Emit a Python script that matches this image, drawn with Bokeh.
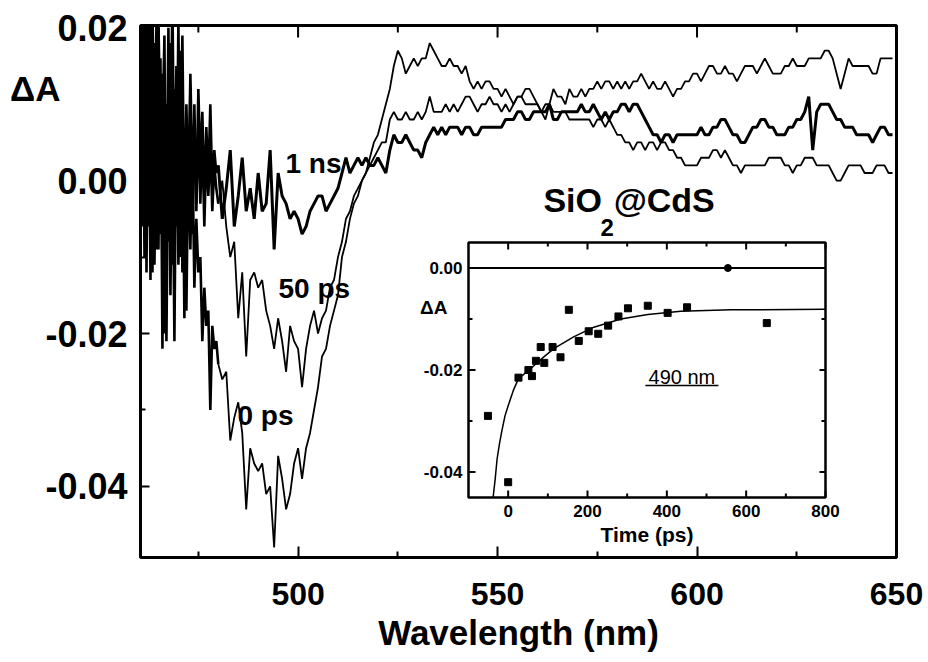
import numpy as np
from bokeh.plotting import figure
from bokeh.models import (Range1d, FixedTicker, NumeralTickFormatter, LinearAxis,
                          CustomJSTickFormatter)
from bokeh.core.properties import value
from bokeh.embed import file_html
from bokeh.resources import INLINE

FONT = "Liberation Sans"

# ---------------- main spectra ----------------
# wavelength sampling (nm): 0.5 nm in the noisy blue edge, 1 nm after
wl_fine = np.arange(460.5, 480.0, 0.5)      # 39 points
wl_coarse = np.arange(480.0, 650.0, 1.0)    # 170 points

dA_0ps_fine = [22, -6, 26, -12, 19, -13, 24, -2, 21, -9,
               16, -22, 13, -5, 20, -15, 9, -21, 11, -8,
               17, -12, 6, -17, 4, -9, 5, -14, -5, -12,
               -10, -21, -14, -19, -17, -30, -19, -22, -21]
dA_0ps_coarse = [-24, -26, -25, -34, -31, -29, -33, -43, -35, -37,   # 480
                 -38, -37, -41, -40, -48, -36, -39, -43, -41, -37,   # 490
                 -35, -39, -35, -33, -30, -27, -23, -22, -19, -17,   # 500
                 -15, -10, -8, -5, -3, -2, 0, 1, 3, 5,               # 510
                 6, 8, 10, 12, 15, 17, 16, 14, 15, 16,               # 520
                 15, 16, 16, 18, 17, 16, 15, 15, 16, 15,             # 530
                 15, 14, 15, 13, 12, 13, 12, 13, 13, 12,             # 540
                 12, 11, 12, 11, 10, 11, 11, 12, 12, 11,             # 550
                 10, 9, 8, 10, 12, 11, 11, 10, 12, 11,               # 560
                 11, 12, 11, 12, 12, 13, 12, 13, 13, 12,             # 570
                 13, 12, 13, 12, 13, 13, 14, 13, 12, 13,             # 580
                 12, 12, 13, 12, 11, 12, 12, 13, 13, 14,             # 590
                 14, 13, 14, 15, 15, 14, 14, 15, 14, 14,             # 600
                 13, 14, 15, 15, 15, 14, 15, 16, 15, 14,             # 610
                 14, 14, 15, 15, 16, 15, 15, 15, 16, 16,             # 620
                 16, 16, 17, 17, 16, 14, 12, 14, 16, 15,             # 630
                 15, 15, 15, 15, 14, 14, 16, 16, 16, 16]             # 640

dA_50ps_fine = [-5, 24, -10, 20, -6, 25, -12, 18, -9, 22,
                -4, 14, -20, 10, -8, 18, -11, 12, -6, 21,
                -10, 9, -18, 7, -5, 12, -7, 10, -4, 8,
                -3, 6, -6, 4, -2, 5, -4, 2, -1]
dA_50ps_coarse = [-3, 0, -6, -10, -8, -18, -12, -23, -13, -12,       # 480
                  -14, -13, -17, -19, -22, -18, -21, -25, -19, -21,  # 490
                  -22, -27, -22, -19, -17, -20, -18, -17, -14, -13,  # 500
                  -10, -8, -5, -4, -2, -1, 0, 1, 2, 3,               # 510
                  4, 5, 5, 8, 9, 8, 8, 9, 8, 8,                      # 520
                  9, 8, 9, 11, 9, 9, 9, 10, 9, 10,                   # 530
                  9, 10, 11, 11, 10, 9, 10, 10, 11, 10,              # 540
                  10, 9, 10, 9, 10, 11, 11, 10, 10, 10,              # 550
                  10, 9, 10, 10, 9, 9, 9, 9, 8, 8,                   # 560
                  8, 8, 8, 8, 7, 8, 8, 7, 8, 7,                      # 570
                  6, 6, 5, 5, 4, 5, 5, 4, 5, 5,                      # 580
                  4, 5, 5, 4, 4, 3, 3, 2, 2, 2,                      # 590
                  2, 3, 3, 3, 4, 4, 3, 4, 3, 2,                      # 600
                  2, 1, 2, 2, 2, 2, 2, 2, 3, 3,                      # 610
                  3, 3, 2, 2, 1, 2, 2, 3, 3, 3,                      # 620
                  2, 2, 2, 2, 1, 0, 0, 1, 2, 2,                      # 630
                  2, 2, 1, 1, 1, 2, 2, 2, 1, 1]                      # 640

dA_1ns_fine = [10, -3, 18, -8, 26, 2, 15, -11, 9, 23,
               -7, 6, 19, -21, 8, 2, 24, -4, 15, -11,
               4, 19, -6, 10, -2, 14, 1, 8, -3, 12,
               2, 9, -2, 7, 0, 10, -1, 4, 1]
dA_1ns_coarse = [2, -5, -1, 4, -6, -2, 3, -4, -1, -5,                # 480
                 1, -4, -3, 4, -9, 1, -2, -3, -5, -4,                # 490
                 -5, -7, -6, -4, -3, -2, -2, -4, -3, -2,             # 500
                 -1, 1, 3, 1, 2, 3, 2, 3, 2, 2,                      # 510
                 3, 2, 1, 4, 6, 5, 5, 6, 5, 4,                       # 520
                 4, 3, 5, 6, 7, 6, 7, 6, 7, 7,                       # 530
                 7, 6, 7, 7, 6, 6, 7, 7, 7, 7,                       # 540
                 7, 7, 8, 8, 8, 9, 9, 8, 8, 9,                       # 550
                 9, 9, 9, 10, 8, 8, 9, 9, 9, 9,                      # 560
                 9, 10, 9, 9, 10, 9, 8, 9, 8, 9,                     # 570
                 9, 10, 10, 9, 10, 10, 9, 8, 7, 6,                   # 580
                 6, 5, 6, 6, 5, 6, 6, 6, 6, 6,                       # 590
                 6, 7, 6, 6, 7, 7, 8, 8, 7, 6,                       # 600
                 6, 5, 5, 6, 7, 7, 8, 8, 7, 7,                       # 610
                 6, 6, 6, 7, 7, 8, 8, 9, 11, 4,                      # 620
                 9, 10, 10, 10, 9, 8, 8, 7, 7, 7,                    # 630
                 6, 6, 6, 6, 5, 6, 7, 7, 6, 6]                       # 640

x_ticks = [500, 550, 600, 650]
x_minor = [475, 525, 575, 625]
y_ticks = [-0.04, -0.02, 0.0, 0.02]
y_minor = [-0.03, -0.01, 0.01]

trace_label_text = ["1 ns", "50 ps", "0 ps"]
trace_label_x = [496.85, 495.1, 484.8]
trace_label_y = [0.00231, -0.01417, -0.03072]

# ---------------- inset: kinetics at 490 nm ----------------
kin_t = [-51, 0, 26, 51, 60, 70, 82, 91, 112, 132, 153, 178, 203, 227, 252,
         278, 302, 352, 402, 451, 652]
kin_dA = [-29.0, -42.0, -21.5, -20.0, -21.2, -18.2, -15.5, -18.6, -15.5, -17.5,
          -8.2, -14.3, -12.4, -12.9, -11.3, -9.5, -7.9, -7.4, -8.8, -7.7, -10.8]   # 1e-3
kin2_t = [554]
kin2_dA = [0.0]
fit_t = [-38, -33, -28, -22, -16, -8, 0, 13, 26, 40, 56, 81, 115, 165, 216,
         284, 352, 435, 562, 800]
fit_dA = [-45, -41.6, -37.5, -34.5, -32, -29, -27, -24, -21.7, -20.8, -19.8,
          -18, -15.8, -13.5, -11.6, -10, -9.1, -8.5, -8.2, -8.1]                    # 1e-3
inset_x_ticks = [0, 200, 400, 600, 800]
inset_x_tick_labels = ["0", "200", "400", "600", "800"]
inset_x_minor = [100, 300, 500, 700]
inset_y_ticks = [0.0, -0.02, -0.04]
inset_y_tick_labels = ["0.00", "-0.02", "-0.04"]
inset_y_minor = [-0.01, -0.03]

# ---------------- geometry ----------------
FIG_W, FIG_H = 928, 662
B_L, B_R, B_T, B_B = 140, 32, 25, 105
FRAME_W = FIG_W - B_L - B_R
FRAME_H = FIG_H - B_T - B_B
X_MIN, X_MAX = 460.5, 650.0
Y_MIN, Y_MAX = -0.0493, 0.0203
PPX = FRAME_W / (X_MAX - X_MIN)
PPY = FRAME_H / (Y_MAX - Y_MIN)

INS_L, INS_R, INS_T, INS_B = 328, 685, 217, 472   # inset box, frame pixels
T_MIN, T_MAX = -100.0, 800.0
A_MIN, A_MAX = -0.045, 0.005
SX = (T_MAX - T_MIN) / (INS_R - INS_L)
SY = (A_MAX - A_MIN) / (INS_B - INS_T)

wavelength = np.concatenate([wl_fine, wl_coarse])
dA_0ps = np.array(dA_0ps_fine + dA_0ps_coarse) * 1e-3
dA_50ps = np.array(dA_50ps_fine + dA_50ps_coarse) * 1e-3
dA_1ns = np.array(dA_1ns_fine + dA_1ns_coarse) * 1e-3
NF = len(wl_fine)

p = figure(width=FIG_W, height=FIG_H,
           x_range=Range1d(X_MIN, X_MAX), y_range=Range1d(Y_MIN, Y_MAX),
           output_backend="svg", toolbar_location=None,
           min_border_left=B_L, min_border_right=B_R,
           min_border_top=B_T, min_border_bottom=B_B,
           background_fill_color="white", border_fill_color="white")
p.extra_x_ranges = {"tx": Range1d(T_MIN - INS_L * SX, T_MAX + (FRAME_W - INS_R) * SX)}
p.extra_y_ranges = {"ty": Range1d(A_MIN - (FRAME_H - INS_B) * SY, A_MAX + INS_T * SY)}
p.xgrid.grid_line_color = None
p.ygrid.grid_line_color = None
p.outline_line_color = "black"
p.outline_line_width = 3

def style_axis(ax, major_in, minor_in):
    ax.axis_line_color = None
    ax.major_tick_in = major_in
    ax.major_tick_out = 0
    ax.minor_tick_in = minor_in
    ax.minor_tick_out = 0
    ax.major_tick_line_width = 2
    ax.minor_tick_line_width = 2
    ax.major_tick_line_color = "black"
    ax.minor_tick_line_color = "black"
    ax.major_label_text_font = FONT
    ax.major_label_text_font_style = "bold"
    ax.major_label_text_color = "black"

xa = p.xaxis[0]
xa.ticker = FixedTicker(ticks=x_ticks, minor_ticks=x_minor)
style_axis(xa, 11, 6)
xa.major_label_text_font_size = "32px"
xa.major_label_standoff = 25
xa.axis_label = "Wavelength (nm)"
xa.axis_label_text_font = FONT
xa.axis_label_text_font_size = "35px"
xa.axis_label_text_font_style = "bold"
xa.axis_label_text_color = "black"
xa.axis_label_standoff = 5

ya = p.yaxis[0]
ya.ticker = FixedTicker(ticks=y_ticks, minor_ticks=y_minor)
ya.formatter = NumeralTickFormatter(format="0.00")
style_axis(ya, 9, 5)
ya.major_label_text_font_size = "36px"
ya.major_label_standoff = 13

# "ΔA" title: a label-only outer left axis, one tick near the top of the frame
DA_TITLE_Y = Y_MAX - (87.5 - B_T) / PPY
title_ax = LinearAxis(ticker=FixedTicker(ticks=[DA_TITLE_Y], minor_ticks=[]),
                      formatter=CustomJSTickFormatter(code="return 'ΔA';"))
title_ax.axis_line_color = None
title_ax.major_tick_line_color = None
title_ax.minor_tick_line_color = None
title_ax.major_tick_in = 0
title_ax.major_tick_out = 0
title_ax.major_label_text_font = FONT
title_ax.major_label_text_font_size = "35px"
title_ax.major_label_text_font_style = "bold"
title_ax.major_label_text_color = "black"
title_ax.major_label_standoff = -18
p.add_layout(title_ax, "left")

# top-edge inward ticks of the main frame
p.ray(x_ticks, [Y_MAX] * len(x_ticks), length=12, angle=-np.pi / 2, length_units="screen",
      line_color="black", line_width=2)
p.ray(x_minor, [Y_MAX] * len(x_minor), length=7, angle=-np.pi / 2, length_units="screen",
      line_color="black", line_width=2)

# spectra (the very noisy blue edge drawn a little heavier, as in the scan)
for series, lw in ((dA_0ps, 1.8), (dA_50ps, 1.8), (dA_1ns, 3.0)):
    p.line(wavelength[:NF + 1], series[:NF + 1], line_color="black", line_width=2.6)
    p.line(wavelength[NF:], series[NF:], line_color="black", line_width=lw)

p.text(x=trace_label_x, y=trace_label_y, text=trace_label_text,
       text_font=value(FONT), text_font_size=value("28px"), text_font_style="bold",
       text_color="black", text_align="left", text_baseline="middle")

# sample name SiO2@CdS
p.text(x=[561.5, 579.1], y=[-0.00259, -0.00259], text=["SiO", "@CdS"],
       text_font=value(FONT), text_font_size=value("34px"), text_font_style="bold",
       text_color="black", text_align="left", text_baseline="middle")
p.text(x=[575.8], y=[-0.00619], text=["2"],
       text_font=value(FONT), text_font_size=value("24px"), text_font_style="bold",
       text_color="black", text_align="left", text_baseline="middle")

# ---------------- inset drawing ----------------
R = dict(x_range_name="tx", y_range_name="ty")
p.quad(left=[T_MIN], right=[T_MAX], bottom=[A_MIN], top=[A_MAX],
       fill_color="white", line_color="black", line_width=2.5, **R)
p.line([T_MIN, T_MAX], [0.0, 0.0], line_color="black", line_width=2, **R)
p.line(fit_t, np.array(fit_dA) * 1e-3, line_color="black", line_width=1.5, **R)
p.scatter(kin_t, np.array(kin_dA) * 1e-3, marker="square", size=7,
          fill_color="black", line_color="black", **R)
p.scatter(kin2_t, kin2_dA, marker="circle", size=7,
          fill_color="black", line_color="black", **R)

# inset ticks (inward)
n = len(inset_x_ticks); m = len(inset_x_minor)
p.ray(inset_x_ticks, [A_MIN] * n, length=7, angle=np.pi / 2, length_units="screen",
      line_color="black", line_width=2, **R)
p.ray(inset_x_ticks, [A_MAX] * n, length=7, angle=-np.pi / 2, length_units="screen",
      line_color="black", line_width=2, **R)
p.ray(inset_x_minor, [A_MIN] * m, length=4, angle=np.pi / 2, length_units="screen",
      line_color="black", line_width=2, **R)
p.ray(inset_x_minor, [A_MAX] * m, length=4, angle=-np.pi / 2, length_units="screen",
      line_color="black", line_width=2, **R)
k = len(inset_y_ticks); q = len(inset_y_minor)
p.ray([T_MIN] * k, inset_y_ticks, length=7, angle=0, length_units="screen",
      line_color="black", line_width=2, **R)
p.ray([T_MAX] * k, inset_y_ticks, length=6, angle=np.pi, length_units="screen",
      line_color="black", line_width=2, **R)
p.ray([T_MIN] * q, inset_y_minor, length=4, angle=0, length_units="screen",
      line_color="black", line_width=2, **R)
p.ray([T_MAX] * q, inset_y_minor, length=4, angle=np.pi, length_units="screen",
      line_color="black", line_width=2, **R)

# inset tick labels and titles
p.text(x=inset_x_ticks, y=[A_MIN] * n, text=inset_x_tick_labels, y_offset=7,
       text_font=value(FONT), text_font_size=value("17px"), text_font_style="bold",
       text_align="center", text_baseline="top", text_color="black", **R)
p.text(x=[T_MIN] * k, y=inset_y_ticks, text=inset_y_tick_labels, x_offset=-6,
       text_font=value(FONT), text_font_size=value("17px"), text_font_style="bold",
       text_align="right", text_baseline="middle", text_color="black", **R)
p.text(x=[(T_MIN + T_MAX) / 2], y=[A_MIN], text=["Time (ps)"], y_offset=25,
       text_font=value(FONT), text_font_size=value("21px"), text_font_style="bold",
       text_align="center", text_baseline="top", text_color="black", **R)
p.text(x=[T_MIN], y=[-0.00775], text=["ΔA"], x_offset=-21,
       text_font=value(FONT), text_font_size=value("19px"), text_font_style="bold",
       text_align="right", text_baseline="middle", text_color="black", **R)
WL_T, WL_A = 438.0, -0.02137
p.text(x=[WL_T], y=[WL_A], text=["490 nm"],
       text_font=value(FONT), text_font_size=value("20px"),
       text_align="center", text_baseline="middle", text_color="black", **R)
p.segment(x0=[WL_T - 36.5 * SX], x1=[WL_T + 36.5 * SX],
          y0=[WL_A - 8.5 * SY], y1=[WL_A - 8.5 * SY],
          line_color="black", line_width=1.5, **R)

open("out.html", "w").write(file_html(p, INLINE))
